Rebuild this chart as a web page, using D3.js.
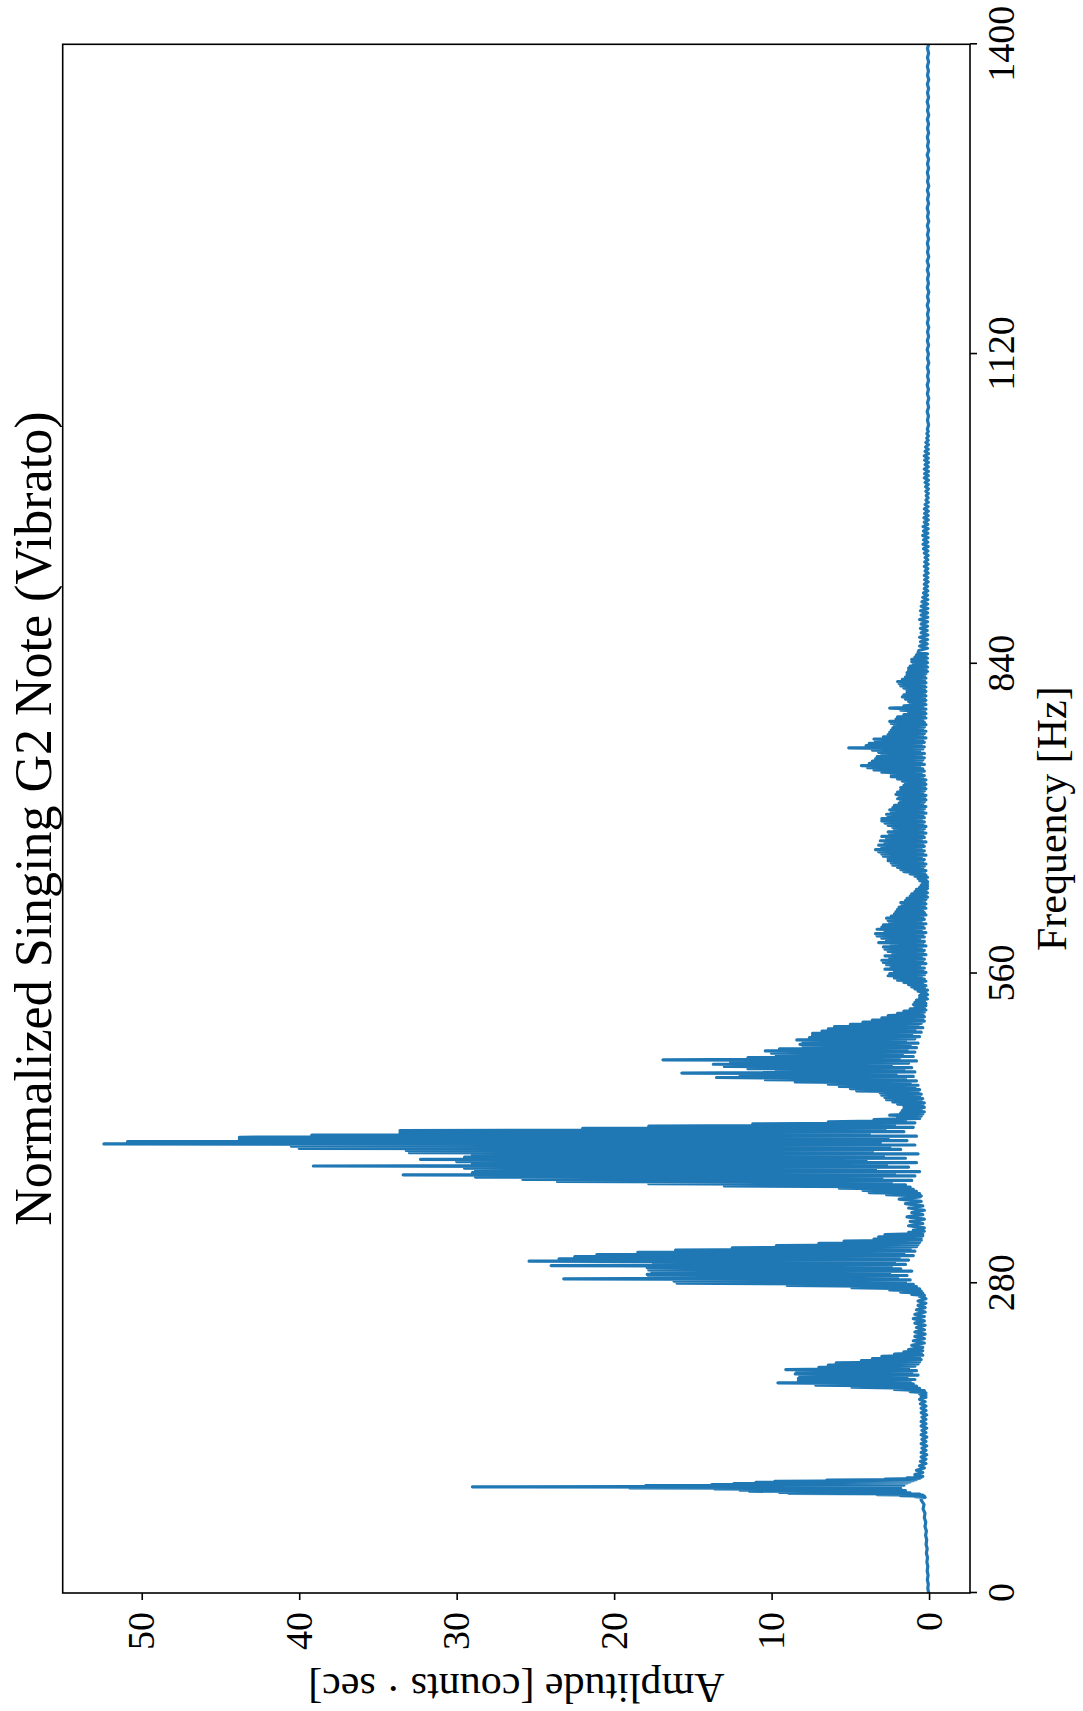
<!DOCTYPE html>
<html><head><meta charset="utf-8">
<script src="https://cdn.jsdelivr.net/npm/d3@7"></script>
<style>
body{margin:0;background:#fff;}
svg text{font-family:"Liberation Serif","Times New Roman",serif;fill:#000;}
</style>
</head><body>
<svg id="chart" width="1083" height="1711"></svg>
<script>
// ---- data (amplitude samples, grouped in frequency bands) ----
const bandStartHz = [0, 86, 107, 176, 220, 267, 328, 359, 432, 532, 852, 1052];
const bandStepHz  = [4, 0.5, 2, 1, 2, 1, 2, 1, 1, 1, 2, 4];

const ampBand0 = [0.02,0.08,0.05,0.11,0.06,0.12,0.08,0.14,0.1,0.17,0.12,0.19,0.15,0.22,0.17,0.26,0.21,0.3,0.26,0.38,0.32,0.5];
const ampBand1 = [0.5,0.25,0.9,0.3,1.8,0.4,3.3,0.6,8.9,1.2,9.5,2.0,11.4,1.5,12.0,2.3,13.6,1.8,19.0,2.2,29.0,2.0,18.0,1.6,13.8,1.9,12.4,1.4,11.0,1.2,9.8,1.0,6.5,0.8,2.8,0.6,1.4,0.5,0.9,0.4,0.8];
const ampBand2 = [0.9,0.4,0.8,0.3,0.6,0.2,0.55,0.2,0.5,0.15,0.5,0.2,0.45,0.15,0.5,0.2,0.45,0.15,0.5,0.2,0.45,0.15,0.5,0.2,0.5,0.2,0.45,0.15,0.5,0.2,0.5,0.2,0.55,0.25,0.6];
const ampBand3 = [0.5,0.2,0.5,0.2,0.6,0.2,1.2,0.3,2.2,0.6,4.9,0.8,7.2,1.0,9.6,1.2,8.3,0.9,8.3,1.4,8.2,0.7,8.5,1.1,8.4,0.8,9.1,1.3,7.0,0.9,6.4,0.7,5.9,0.6,4.3,0.5,3.6,0.6,3.0,0.4,2.2,0.5,1.6,0.4];
const ampBand4 = [1.3,0.4,1.1,0.3,1.0,0.3,0.9,0.25,0.9,0.3,0.8,0.25,0.9,0.3,1.0,0.3,0.9,0.25,0.8,0.25,0.7,0.2,0.7,0.2];
const ampBand5 = [0.3,0.6,0.3,1.1,0.4,1.8,0.5,2.5,0.6,4.9,0.8,9.0,1.0,16.0,1.5,16.2,1.2,23.2,2.0,17.8,1.4,17.9,2.5,17.6,1.1,17.8,1.8,17.9,2.4,24.0,1.5,17.5,2.2,25.4,1.3,23.5,1.9,22.5,1.0,21.1,1.6,18.5,0.9,16.1,1.2,12.5,0.8,9.7,0.7,7.0,0.6,5.4,0.5,3.5,0.5,3.2,0.4,2.8,0.4,1.3,0.3];
const ampBand6 = [1.0,0.3,1.3,0.4,1.2,0.3,1.4,0.4,1.1,0.3,1.3,0.4,1.5,0.5,1.9,0.6];
const ampBand7 = [0.5,2.7,0.6,3.8,0.8,4.2,1.0,5.7,1.2,13.0,1.5,17.8,2.4,23.6,1.1,25.8,3.0,28.8,0.9,33.4,2.2,29.0,0.6,28.8,3.4,29.5,1.3,39.1,2.7,29.0,0.8,30.0,4.0,32.3,1.5,29.5,2.9,29.0,0.7,33.0,3.6,33.2,1.8,40.0,2.5,40.5,0.9,52.4,3.1,50.9,1.4,43.8,2.6,43.8,0.8,39.2,3.8,33.6,1.6,33.6,2.8,22.0,1.0,17.8,2.2,11.2,0.9,6.4,1.5,3.5,0.6,2.0,0.5];
const ampBand8 = [2.5,0.4,1.8,0.3,1.7,0.5,1.6,0.3,1.6,0.4,2.0,0.3,2.3,0.5,2.7,0.4,2.8,0.6,3.0,0.5,3.1,0.7,4.6,0.6,5.0,0.9,5.7,0.7,6.4,1.2,8.5,0.8,10.4,1.5,13.5,1.0,12.0,2.1,15.7,0.9,9.7,1.6,11.5,1.1,13.0,2.4,13.7,1.3,12.6,0.8,16.9,1.9,11.5,1.0,9.7,1.7,10.0,0.9,10.4,1.4,9.5,0.8,8.0,1.2,8.2,0.7,8.0,1.5,8.4,0.9,7.6,0.6,7.4,1.1,7.4,0.5,6.8,0.9,6.4,0.4,6.0,0.7,5.0,0.5,4.2,0.3,3.6,0.4,3.0,0.3,2.6,0.4,2.0,0.3,1.6,0.2,1.2,0.3,0.9,0.2];
const ampBand9 = [
  1.0,0.2,0.9,0.3,0.8,0.1,0.6,0.2,0.6,0.1,0.5,0.2,0.7,0.1,0.9,0.3,1.1,0.2,1.3,0.4,
  1.6,0.2,2.0,0.3,2.2,0.5,2.6,0.3,2.5,0.2,2.2,0.4,2.8,0.3,2.4,0.6,2.7,0.2,2.9,0.4,
  3.0,0.3,2.5,0.5,2.8,0.2,2.3,0.4,2.6,0.3,2.8,0.5,2.9,0.2,2.4,0.4,3.2,0.3,2.7,0.6,
  3.0,0.3,3.3,0.4,3.4,0.2,2.8,0.5,3.3,0.3,3.0,0.4,2.9,0.2,2.5,0.5,2.6,0.3,2.7,0.4,
  2.4,0.2,2.2,0.3,2.1,0.4,2.0,0.2,1.9,0.3,1.7,0.2,1.8,0.3,1.5,0.2,1.4,0.1,1.2,0.2,
  1.1,0.1,0.9,0.2,0.8,0.1,0.6,0.1,0.5,0.1,0.4,0.1,0.6,0.2,0.7,0.1,0.9,0.2,1.2,0.3,
  1.6,0.2,1.8,0.4,2.0,0.3,2.3,0.2,2.4,0.4,2.6,0.3,2.6,0.5,2.9,0.2,3.0,0.4,3.2,0.3,
  3.4,0.5,3.0,0.3,3.2,0.4,2.8,0.2,3.1,0.5,2.7,0.3,3.0,0.4,2.5,0.2,2.6,0.4,2.2,0.3,
  2.3,0.2,2.6,0.4,2.8,0.3,3.0,0.5,3.0,0.3,2.6,0.4,2.7,0.2,2.4,0.4,2.5,0.3,2.3,0.2,
  2.2,0.4,1.9,0.3,1.8,0.2,2.0,0.3,1.9,0.2,2.1,0.4,2.0,0.3,1.8,0.2,1.8,0.3,1.6,0.2,
  1.5,0.3,1.7,0.2,2.0,0.4,2.4,0.3,2.4,0.5,3.0,0.3,3.5,0.4,3.9,0.6,4.3,0.3,3.8,0.5,
  3.6,0.4,3.4,0.3,3.3,0.5,3.0,0.3,3.2,0.6,3.6,0.4,5.1,0.3,4.0,0.5,3.8,0.3,3.4,0.4,
  3.5,0.2,2.9,0.4,2.6,0.3,2.5,0.2,2.4,0.4,2.3,0.3,2.2,0.2,2.4,0.3,2.5,0.4,2.1,0.2,
  2.0,0.3,1.6,0.2,1.3,0.3,1.8,0.2,2.5,0.4,1.6,0.2,1.2,0.3,1.3,0.2,1.5,0.3,1.7,0.2,
  1.6,0.3,1.4,0.2,1.4,0.3,1.6,0.2,1.8,0.3,1.9,0.2,2.0,0.3,1.7,0.2,1.5,0.3,1.4,0.2,
  1.4,0.1,1.3,0.2,1.3,0.1,1.2,0.2,1.0,0.1,1.1,0.2,1.1,0.1,0.9,0.2,0.8,0.1,0.7];
const ampBand10 = [
  0.65,0.1,0.6,0.12,0.55,0.1,0.6,0.08,0.5,0.12,0.55,0.1,0.5,0.1,0.6,0.08,0.5,0.1,
  0.55,0.08,0.5,0.1,0.45,0.08,0.4,0.1,0.35,0.08,0.3,0.1,0.3,0.06,0.28,0.08,0.3,0.06,
  0.25,0.08,0.3,0.06,0.28,0.08,0.25,0.06,0.3,0.08,0.35,0.06,0.38,0.08,0.35,0.06,0.4,0.08,
  0.35,0.06,0.38,0.08,0.3,0.05,0.32,0.06,0.28,0.05,0.3,0.06,0.25,0.05,0.2,0.06,0.18,0.05,
  0.2,0.04,0.22,0.05,0.25,0.04,0.3,0.05,0.28,0.04,0.3,0.05,0.25,0.04,0.28,0.05,0.3,0.04,
  0.25,0.05,0.22,0.04,0.2,0.05,0.15,0.04,0.14,0.05];
const ampBand11 = [
  0.11,0.03,0.1,0.04,0.12,0.03,0.1,0.02,0.11,0.04,0.12,0.03,0.1,0.03,0.11,0.02,
  0.1,0.04,0.12,0.03,0.11,0.03,0.1,0.02,0.11,0.04,0.1,0.03,0.12,0.03,0.1,0.02,
  0.11,0.04,0.1,0.03,0.11,0.03,0.12,0.02,0.1,0.04,0.11,0.03,0.1,0.03,0.11,0.02,
  0.1,0.04,0.12,0.03,0.1,0.03,0.11,0.02,0.1,0.04,0.11,0.03,0.1,0.03,0.12,0.02,
  0.1,0.04,0.11,0.03,0.1,0.03,0.11,0.02,0.1,0.04,0.12,0.03,0.1,0.03,0.11,0.02,
  0.1,0.04,0.11,0.03,0.1,0.03,0.1,0.03];

const freqTicks = [0, 280, 560, 840, 1120, 1400];
const ampTicks = [0, 10, 20, 30, 40, 50];
const titleText = "Normalized Singing G2 Note (Vibrato)";
const xLabelText = "Frequency [Hz]";
const yLabelText = "Amplitude [counts \u00B7 sec]";

// ---- build sample list ----
const bands = [ampBand0, ampBand1, ampBand2, ampBand3, ampBand4, ampBand5, ampBand6, ampBand7, ampBand8, ampBand9, ampBand10, ampBand11];
const samples = [];
bands.forEach((arr, b) => arr.forEach((a, i) => samples.push([bandStartHz[b] + i * bandStepHz[b], a])));

// ---- layout (the whole matplotlib figure is rotated 90° counter-clockwise) ----
const frameLeft = 62.7, frameTop = 44.3, frameRight = 970, frameBottom = 1593;
const W = frameBottom - frameTop;   // frequency axis length
const H = frameRight - frameLeft;   // amplitude axis length

const svg = d3.select("#chart");
const g = svg.append("g").attr("transform", `translate(${frameLeft},${frameBottom}) rotate(-90)`);

const x = d3.scaleLinear().domain([0, 1400]).range([0, W]);
const [aMin, aMax] = d3.extent(samples, d => d[1]);
const pad = 0.05 * (aMax - aMin);
const y = d3.scaleLinear().domain([aMin - pad, aMax + pad]).range([H, 0]);

g.append("clipPath").attr("id", "plotClip").append("rect").attr("width", W).attr("height", H);

g.append("path")
  .datum(samples)
  .attr("clip-path", "url(#plotClip)")
  .attr("fill", "none")
  .attr("stroke", "#1f77b4")
  .attr("stroke-width", 3.2)
  .attr("stroke-linejoin", "round")
  .attr("stroke-linecap", "round")
  .attr("d", d3.line().x(d => x(d[0])).y(d => y(d[1])));

// axes
const xAxis = g.append("g").attr("transform", `translate(0,${H})`)
  .call(d3.axisBottom(x).tickValues(freqTicks).tickFormat(d3.format("d")).tickSize(7).tickSizeOuter(0).tickPadding(10));
const yAxis = g.append("g")
  .call(d3.axisLeft(y).tickValues(ampTicks).tickFormat(d3.format("d")).tickSize(7).tickSizeOuter(0).tickPadding(12));
[xAxis, yAxis].forEach(ax => {
  ax.select(".domain").remove();
  ax.attr("font-family", null).attr("font-size", null);
  ax.selectAll(".tick line").attr("stroke", "#000").attr("stroke-width", 1.6);
  ax.selectAll(".tick text").attr("font-size", 38).attr("fill", "#000");
});

// frame
g.append("rect").attr("width", W).attr("height", H)
  .attr("fill", "none").attr("stroke", "#000").attr("stroke-width", 1.6);

// texts
g.append("text").attr("x", W / 2).attr("y", -12).attr("text-anchor", "middle")
  .attr("font-size", 52).text(titleText);
g.append("text").attr("x", W / 2).attr("y", 1003).attr("text-anchor", "middle")
  .attr("font-size", 42).text(xLabelText);
g.append("text").attr("transform", `translate(-81,${H / 2}) rotate(-90)`).attr("text-anchor", "middle")
  .attr("font-size", 42).text(yLabelText);
</script>
</body></html>
